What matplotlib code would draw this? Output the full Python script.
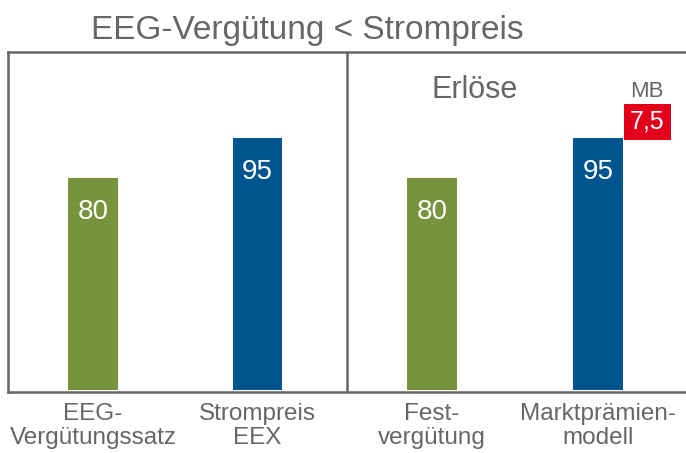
import matplotlib.pyplot as plt

plt.rcParams['font.family'] = ['Liberation Sans', 'DejaVu Sans']

categories = ['EEG-\nVergütungssatz', 'Strompreis\nEEX', 'Fest-\nvergütung', 'Marktprämien-\nmodell']
values = [80, 95, 80, 95]
value_labels = ['80', '95', '80', '95']
mb_value = 7.5
mb_label = '7,5'

green = '#77933C'
blue = '#00558F'
red = '#E2001A'
gray = '#666666'
colors = [green, blue, green, blue]
positions = [0, 1, 2.06, 3.07]

fig = plt.figure(figsize=(6.86, 4.53), dpi=100)
ax = fig.add_axes([8 / 686, 61 / 453, 680 / 686, 340 / 453])

ax.bar(positions, values, width=0.30, color=colors)
for x, v, lab in zip(positions, values, value_labels):
    ax.text(x, v - 7.9, lab, color='white', fontsize=20, ha='center', va='top')

# Marktbonus box on top of the last bar
ax.text(positions[3] + 0.30, values[3] + 6.2, mb_label, color='white', fontsize=18,
        ha='center', va='center',
        bbox=dict(boxstyle='square,pad=0.24', fc=red, ec='none'))
ax.text(positions[3] + 0.30, values[3] + 17.5, 'MB', color=gray, fontsize=16,
        ha='center', va='center')
ax.text(2.32, 113, 'Erlöse', color=gray, fontsize=22, ha='center', va='center')

ax.set_xlim(-0.517, 3.617)
ax.set_ylim(-0.75, 127.5)
ax.axvline(1.544, color=gray, lw=1.8)
for s in ax.spines.values():
    s.set_color(gray)
    s.set_linewidth(1.8)
ax.set_yticks([])
ax.set_xticks(positions)
ax.set_xticklabels(categories, fontsize=17.5, color=gray, linespacing=1.1)
ax.tick_params(axis='x', length=0, pad=8)

fig.text(307 / 686, 1 - 30 / 453, 'EEG-Vergütung < Strompreis', color=gray,
         fontsize=24, ha='center', va='center')

fig.savefig('out.png', dpi=100)
